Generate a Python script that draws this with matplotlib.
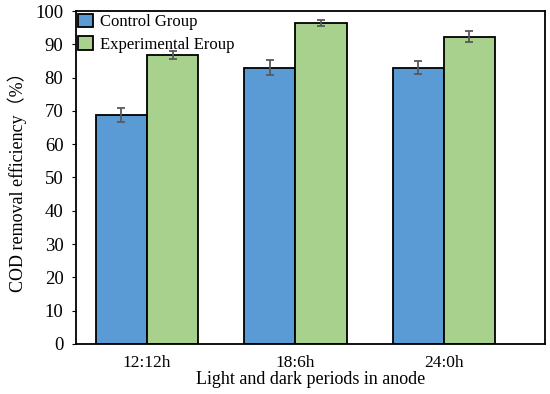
import numpy as np
from matplotlib import pyplot as plt

periods = ['12:12h', '18:6h', '24:0h']
control = [68.8, 83.0, 83.0]
control_err = [2.2, 2.2, 2.0]
experimental = [86.7, 96.3, 92.3]
experimental_err = [1.2, 0.9, 1.6]

plt.rcParams['font.family'] = ['Liberation Serif', 'Noto Sans CJK SC']

fig, ax = plt.subplots(figsize=(5.5, 3.94), dpi=100)
fig.subplots_adjust(left=0.138, right=0.99, top=0.972, bottom=0.127)

x = np.arange(len(periods))
barWidth = 0.345
err_style = dict(ecolor='#595959', elinewidth=1.3, capsize=2.7, capthick=1.3)
ax.bar(x - barWidth / 2, control, width=barWidth, color='#5B9BD5', edgecolor='black',
       linewidth=1.3, yerr=control_err, error_kw=err_style, label='Control Group')
ax.bar(x + barWidth / 2, experimental, width=barWidth, color='#A9D18E', edgecolor='black',
       linewidth=1.3, yerr=experimental_err, error_kw=err_style, label='Experimental Eroup')

ax.set_xlim(-0.48, 2.68)
ax.set_ylim(0, 100)
ax.set_yticks(np.arange(0, 101, 10))
ax.set_xticks(x)
ax.set_xticklabels(periods)
ax.tick_params(axis='x', length=0, labelsize=12.5, pad=8)
ax.tick_params(axis='y', length=3, labelsize=13.5, direction='out', pad=6)
for s in ax.spines.values():
    s.set_linewidth(1.3)

ax.set_xlabel('Light and dark periods in anode', fontsize=13, labelpad=0)
ax.set_ylabel('COD removal efficiency（%）', fontsize=13, labelpad=6)

ax.legend(loc='upper left', frameon=False, fontsize=12, handlelength=0.9, handleheight=0.9,
          handletextpad=0.4, borderaxespad=0.05, labelspacing=0.35, borderpad=0.1)

plt.savefig('out.png', dpi=100)
